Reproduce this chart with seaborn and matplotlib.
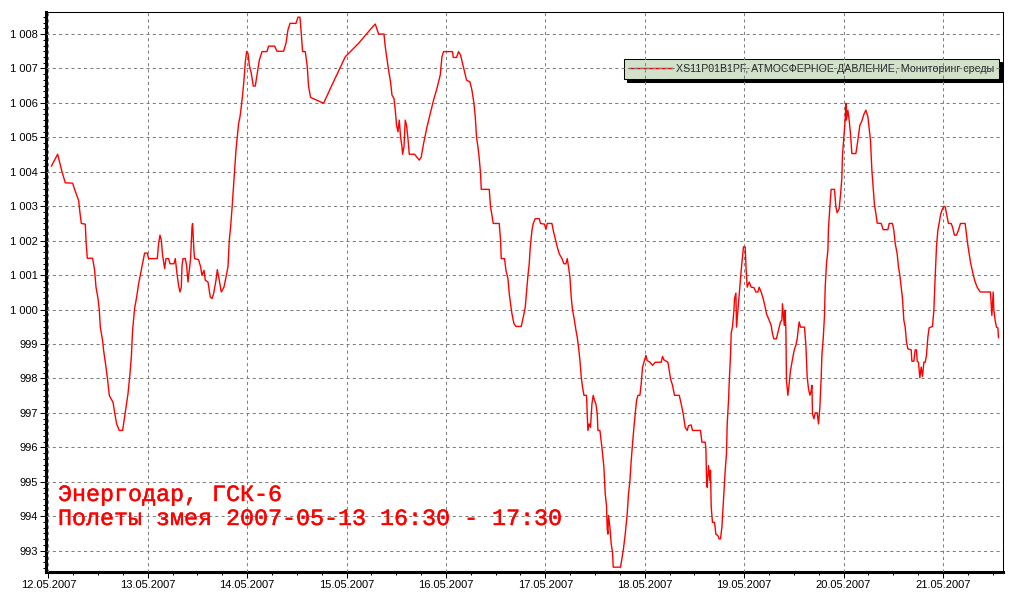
import numpy as np
import pandas as pd
import matplotlib
matplotlib.use("Agg")
import matplotlib.pyplot as plt
import matplotlib.dates as mdates
import matplotlib.patheffects as pe
from matplotlib.ticker import MultipleLocator, AutoMinorLocator, FuncFormatter
import seaborn as sns

# ---- data (hours since 2007-05-12 00:00, pressure in hPa) ----
hours = [
    0.72, 2.25, 3.31, 4.10, 5.87, 6.35, 7.31, 7.65, 7.97, 8.93, 9.10, 9.41, 10.69, 11.18,
    11.51, 12.00, 12.31, 12.55, 13.11, 13.35, 13.76, 14.24, 14.73, 15.62, 16.00, 16.49,
    17.14, 17.94, 18.59, 19.24, 19.72, 20.04, 20.35, 20.83, 21.32, 21.80, 22.28, 22.76,
    23.25, 23.90, 24.21, 26.31, 26.63, 26.96, 27.28, 27.59, 28.08, 28.41, 29.04, 29.38,
    30.34, 30.66, 31.07, 31.45, 31.79, 32.11, 32.28, 32.52, 33.07, 33.39, 33.72, 34.04,
    34.35, 34.69, 34.83, 35.17, 35.32, 36.28, 36.77, 37.10, 37.59, 37.90, 38.55, 39.11,
    39.52, 39.90, 40.48, 40.80, 41.28, 41.76, 42.41, 42.90, 43.38, 43.69, 44.01, 44.35,
    44.66, 44.97, 45.31, 45.62, 45.94, 46.28, 46.59, 46.90, 47.24, 47.56, 47.87, 48.21,
    48.52, 49.00, 49.49, 49.97, 50.45, 50.94, 51.59, 52.79, 53.18, 54.63, 55.21, 56.80,
    57.38, 57.86, 58.35, 59.80, 60.28, 60.76, 61.07, 61.39, 62.04, 62.52, 62.84, 63.32,
    64.45, 66.46, 68.49, 71.70, 74.91, 77.66, 78.94, 79.74, 81.04, 81.35, 81.76, 82.15,
    82.63, 82.97, 83.45, 83.77, 84.08, 84.42, 84.73, 85.05, 85.39, 85.53, 85.87, 86.18,
    86.49, 86.83, 87.15, 88.42, 89.56, 90.04, 90.60, 91.42, 92.21, 93.01, 93.83, 94.63,
    95.04, 95.43, 97.60, 97.77, 98.56, 99.05, 99.53, 100.01, 100.49, 100.98, 101.80,
    102.28, 102.76, 103.08, 103.39, 103.73, 104.04, 104.36, 104.53, 106.46, 106.77,
    107.11, 107.42, 108.87, 109.19, 109.35, 110.15, 110.49, 110.97, 111.29, 111.60,
    111.94, 112.42, 112.90, 114.18, 114.67, 115.15, 115.56, 115.80, 116.11, 116.28,
    116.52, 116.77, 117.08, 117.56, 118.53, 118.84, 119.81, 120.14, 120.46, 121.59,
    121.91, 122.39, 122.87, 123.36, 124.01, 124.49, 124.97, 125.29, 125.60, 125.94,
    126.25, 126.57, 126.90, 127.39, 127.70, 128.02, 128.36, 128.67, 128.98, 129.32,
    129.95, 130.11, 130.28, 130.60, 130.91, 131.25, 131.56, 131.88, 132.21, 132.53,
    132.70, 133.18, 133.66, 134.14, 134.46, 134.77, 134.94, 135.11, 135.26, 135.59,
    135.91, 136.22, 136.39, 138.15, 138.49, 138.81, 139.29, 139.77, 140.08, 140.42,
    140.74, 141.05, 141.39, 141.70, 142.02, 142.36, 142.84, 143.15, 143.47, 143.80,
    144.29, 144.60, 145.25, 145.88, 146.53, 147.98, 148.29, 148.63, 149.60, 149.91,
    150.23, 150.71, 151.19, 152.33, 152.81, 153.29, 153.77, 154.25, 154.57, 155.22,
    155.53, 157.46, 157.80, 158.60, 158.77, 158.91, 159.08, 159.40, 159.73, 159.88,
    160.05, 160.36, 160.85, 161.18, 161.67, 161.98, 162.29, 162.63, 163.11, 163.43,
    163.74, 163.91, 164.23, 164.40, 164.71, 164.88, 165.20, 165.53, 165.68, 166.01,
    166.16, 166.49, 166.81, 167.05, 167.29, 167.60, 167.84, 168.25, 168.49, 168.74,
    169.22, 169.70, 170.35, 170.83, 171.31, 171.63, 172.11, 172.59, 173.08, 173.39,
    174.04, 174.52, 174.84, 175.17, 175.80, 176.28, 176.77, 177.11, 177.25, 177.59,
    177.74, 177.91, 178.08, 178.22, 178.56, 178.88, 179.19, 179.53, 179.84, 180.16,
    180.49, 180.81, 181.12, 181.29, 181.60, 182.57, 182.91, 183.22, 183.54, 183.88,
    184.19, 184.36, 184.51, 184.85, 185.16, 185.64, 185.96, 186.29, 186.61, 186.77,
    187.09, 187.40, 187.57, 187.88, 188.22, 188.36, 188.70, 189.01, 189.81, 190.15,
    190.46, 190.94, 191.26, 191.59, 191.74, 192.07, 192.39, 192.56, 192.71, 193.04,
    193.36, 193.67, 194.01, 194.98, 195.46, 195.94, 196.43, 196.91, 197.39, 197.87,
    198.19, 198.50, 198.84, 199.16, 199.47, 199.81, 200.12, 201.09, 201.57, 202.70,
    203.02, 203.81, 204.15, 204.47, 204.95, 205.26, 205.60, 205.91, 206.23, 206.56,
    206.88, 207.19, 207.53, 208.33, 208.50, 208.98, 209.29, 209.61, 209.78, 210.09,
    210.43, 210.74, 211.06, 211.39, 211.71, 212.02, 212.36, 212.67, 213.47, 213.81,
    214.12, 214.44, 214.77, 215.09, 215.40, 215.74, 216.22, 216.54, 217.02, 217.33,
    217.98, 218.30, 218.78, 219.26, 219.74, 220.23, 221.36, 221.67, 222.01, 222.33,
    222.64, 222.98, 223.46, 223.78, 224.26, 224.74, 225.06, 227.47, 227.81, 228.13,
    228.29, 228.60, 228.92, 229.26, 229.41,
]
pressure = [
    1004.16, 1004.51, 1004.00, 1003.68, 1003.67, 1003.49, 1003.17, 1002.80, 1002.50, 1002.48,
    1002.00, 1001.49, 1001.49, 1001.14, 1000.65, 1000.32, 999.98, 999.49, 999.10, 998.81,
    998.47, 998.04, 997.50, 997.31, 997.02, 996.68, 996.49, 996.49, 997.02, 997.56,
    998.14, 998.62, 999.40, 1000.03, 1000.36, 1000.75, 1001.04, 1001.33, 1001.64, 1001.64,
    1001.48, 1001.48, 1001.92, 1002.16, 1002.01, 1001.58, 1001.19, 1001.48, 1001.48, 1001.33,
    1001.33, 1001.48, 1001.04, 1000.70, 1000.51, 1000.65, 1001.28, 1001.48, 1001.48, 1001.28,
    1000.80, 1001.14, 1001.48, 1002.40, 1002.50, 1001.67, 1001.48, 1001.45, 1001.24, 1000.99,
    1001.14, 1000.85, 1000.80, 1000.36, 1000.32, 1000.46, 1000.85, 1001.16, 1000.85, 1000.51,
    1000.65, 1000.94, 1001.24, 1002.01, 1002.40, 1002.93, 1003.47, 1004.00, 1004.63, 1005.01,
    1005.40, 1005.60, 1005.89, 1006.23, 1006.66, 1007.19, 1007.49, 1007.44, 1007.10, 1006.86,
    1006.49, 1006.49, 1006.86, 1007.24, 1007.49, 1007.49, 1007.65, 1007.65, 1007.50, 1007.50,
    1007.73, 1008.12, 1008.31, 1008.31, 1008.49, 1008.49, 1008.02, 1007.49, 1007.49, 1007.05,
    1006.47, 1006.16, 1006.10, 1005.99, 1006.52, 1007.34, 1007.73, 1008.12, 1008.29, 1008.00,
    1008.00, 1007.63, 1007.29, 1006.95, 1006.61, 1006.23, 1006.13, 1005.79, 1005.35, 1005.16,
    1005.50, 1005.01, 1004.72, 1004.51, 1004.72, 1005.50, 1005.35, 1004.97, 1004.51, 1004.51,
    1004.34, 1004.43, 1004.82, 1005.30, 1005.69, 1006.08, 1006.42, 1006.81, 1007.34, 1007.49,
    1007.49, 1007.32, 1007.32, 1007.49, 1007.39, 1007.15, 1006.90, 1006.66, 1006.61, 1006.37,
    1005.99, 1005.60, 1005.01, 1004.72, 1004.39, 1003.95, 1003.49, 1003.49, 1002.98, 1002.74,
    1002.50, 1002.50, 1002.01, 1001.48, 1001.48, 1001.14, 1000.90, 1000.46, 1000.17, 999.88,
    999.59, 999.51, 999.51, 999.78, 1000.07, 1000.65, 1000.99, 1001.33, 1001.67, 1002.01,
    1002.30, 1002.50, 1002.64, 1002.64, 1002.50, 1002.48, 1002.33, 1002.50, 1002.50, 1002.30,
    1002.06, 1001.82, 1001.62, 1001.48, 1001.33, 1001.33, 1001.48, 1001.24, 1000.94, 1000.36,
    999.98, 999.78, 999.40, 999.20, 998.91, 998.52, 998.04, 997.75, 997.51, 997.51,
    996.97, 996.49, 996.68, 996.58, 997.26, 997.51, 997.36, 997.26, 996.97, 996.49,
    996.49, 996.00, 995.42, 994.65, 994.31, 993.63, 993.48, 994.02, 993.68, 993.19,
    992.95, 992.52, 992.52, 992.76, 993.00, 993.48, 994.07, 994.65, 995.03, 995.62,
    996.10, 996.58, 996.97, 997.36, 997.51, 997.51, 997.85, 998.33, 998.47, 998.67,
    998.52, 998.47, 998.38, 998.47, 998.47, 998.64, 998.54, 998.47, 998.23, 997.99,
    997.80, 997.51, 997.51, 997.26, 996.97, 996.58, 996.49, 996.63, 996.65, 996.49,
    996.49, 996.15, 996.15, 995.96, 995.13, 994.84, 995.47, 995.03, 995.33, 994.26,
    993.82, 993.82, 993.48, 993.43, 993.34, 993.34, 993.68, 994.65, 995.33, 995.81,
    996.68, 997.36, 997.89, 998.67, 999.32, 999.51, 999.98, 1000.32, 1000.48, 999.49,
    999.98, 1000.46, 1000.80, 1001.14, 1001.53, 1001.82, 1001.82, 1001.14, 1000.65, 1000.80,
    1000.65, 1000.64, 1000.51, 1000.51, 1000.65, 1000.51, 1000.32, 1000.07, 999.88, 999.69,
    999.54, 999.30, 999.15, 999.15, 999.40, 999.64, 999.69, 1000.17, 999.69, 999.54,
    999.98, 999.40, 997.94, 997.51, 997.85, 998.23, 998.47, 998.67, 998.86, 998.96,
    999.15, 999.49, 999.64, 999.49, 999.49, 998.96, 998.04, 997.70, 997.51, 997.65,
    997.80, 996.97, 996.83, 997.00, 997.00, 996.68, 997.17, 998.04, 998.67, 999.15,
    999.83, 1000.65, 1001.33, 1001.72, 1002.35, 1002.98, 1003.49, 1003.49, 1002.98, 1002.81,
    1002.93, 1003.32, 1003.81, 1004.48, 1005.01, 1005.50, 1005.99, 1005.50, 1005.79, 1005.50,
    1005.11, 1004.53, 1004.53, 1004.92, 1005.35, 1005.48, 1005.67, 1005.79, 1005.60, 1005.26,
    1004.92, 1004.05, 1003.51, 1003.03, 1002.79, 1002.51, 1002.50, 1002.32, 1002.32, 1002.50,
    1002.50, 1002.30, 1001.92, 1001.62, 1001.24, 1000.99, 1000.65, 1000.32, 999.69, 999.49,
    999.06, 998.86, 998.83, 998.50, 998.50, 998.83, 998.83, 998.50, 998.47, 998.02,
    998.33, 998.06, 998.47, 998.47, 998.67, 999.20, 999.47, 999.51, 999.98, 1000.94,
    1001.82, 1002.30, 1002.51, 1002.74, 1002.88, 1003.00, 1002.98, 1002.69, 1002.50, 1002.50,
    1002.40, 1002.16, 1002.16, 1002.30, 1002.50, 1002.50, 1002.21, 1001.87, 1001.62, 1001.38,
    1001.19, 1000.94, 1000.80, 1000.65, 1000.56, 1000.51, 1000.51, 999.83, 1000.51, 999.98,
    999.69, 999.49, 999.47, 999.18,
]
series_label = "XS11P01B1PF, АТМОСФЕРНОЕ ДАВЛЕНИЕ, Мониторинг среды"
note_lines = ["Энергодар, ГСК-6", "Полеты змея 2007-05-13 16:30 - 17:30"]
start_time = "2007-05-12 00:00"
x_range_hours = (-0.56, 230.5)
y_range = (992.38, 1008.64)

# ---- style ----
sns.set_style("white")
plt.rcParams['font.family'] = ['Liberation Sans', 'DejaVu Sans']

n = min(len(hours), len(pressure))
t0 = pd.Timestamp(start_time)
df = pd.DataFrame({
    "time": t0 + pd.to_timedelta(np.array(hours[:n]), unit="h"),
    "pressure": pressure[:n],
})

W, H = 1012, 603
fig = plt.figure(figsize=(W / 100, H / 100), dpi=100)
fig.patch.set_facecolor("white")
ax = fig.add_axes([46 / W, 1 - 572 / H, (1003 - 46) / W, (572 - 12) / H])
ax.set_facecolor("white")

sns.lineplot(data=df, x="time", y="pressure", color="#FF0000", linewidth=1.0,
             estimator=None, sort=False, label=series_label, ax=ax, zorder=3)

ax.set_xlim(t0 + pd.Timedelta(hours=x_range_hours[0]), t0 + pd.Timedelta(hours=x_range_hours[1]))
ax.set_ylim(*y_range)
ax.set_xlabel("")
ax.set_ylabel("")

ax.xaxis.set_major_locator(mdates.DayLocator())
ax.xaxis.set_major_formatter(mdates.DateFormatter("%d.%m.%Y"))
ax.xaxis.set_minor_locator(mdates.HourLocator(byhour=[6, 12, 18]))
ax.yaxis.set_major_locator(MultipleLocator(1))
ax.yaxis.set_minor_locator(AutoMinorLocator(6))
ax.yaxis.set_major_formatter(FuncFormatter(lambda v, p: f"{v:,.0f}".replace(",", " ")))

ax.set_axisbelow(False)
ax.grid(True, which="major", color="#808080", linestyle=(0, (3, 3)), linewidth=0.75)

ax.tick_params(axis="both", which="both", direction="out", colors="black",
               bottom=True, left=True, top=False, right=False)
ax.tick_params(axis="both", which="major", length=4, width=0.75, labelsize=8)
ax.tick_params(axis="both", which="minor", length=2.5, width=0.75)
ax.tick_params(axis="y", which="major", pad=1.6)
ax.tick_params(axis="x", which="major", pad=2.0)

for side in ["left", "bottom"]:
    ax.spines[side].set_linewidth(2.2)
    ax.spines[side].set_color("black")
for side in ["top", "right"]:
    ax.spines[side].set_linewidth(0.75)
    ax.spines[side].set_color("black")

leg = ax.legend(loc="upper right", bbox_to_anchor=(999 / W, 1 - 59 / H),
                bbox_transform=fig.transFigure, frameon=True, fancybox=False,
                shadow={"ox": 2.2, "oy": -2.2, "facecolor": "black", "edgecolor": "black", "alpha": 1},
                facecolor="#D2E2CA", edgecolor="black", framealpha=1, fontsize=7.7,
                handlelength=4.1, handletextpad=0.3, borderpad=0.45, borderaxespad=0)
leg.get_frame().set_linewidth(0.75)
leg.set_zorder(1)

stroke = [pe.withStroke(linewidth=0.3, foreground="#FF0000")]
fig.text(58 / W, 1 - 501 / H, note_lines[0], color="#FF0000", family="Liberation Mono",
         fontsize=16.8, va="baseline", ha="left", path_effects=stroke)
fig.text(58 / W, 1 - 525 / H, note_lines[1], color="#FF0000", family="Liberation Mono",
         fontsize=16.8, va="baseline", ha="left", path_effects=stroke)

fig.savefig("out.png", dpi=100)
